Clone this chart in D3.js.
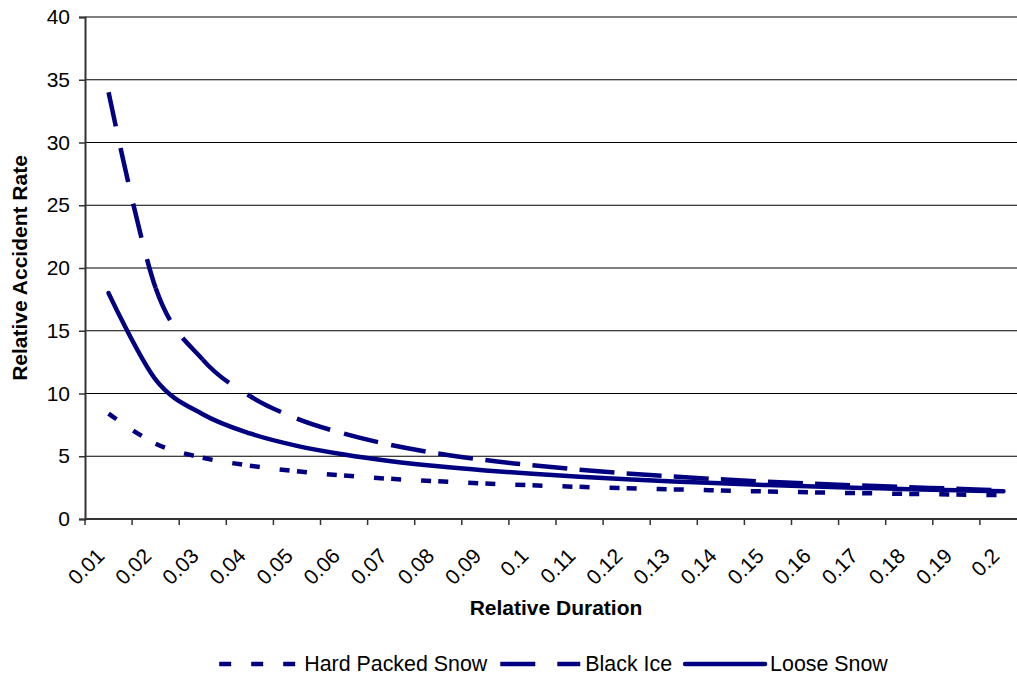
<!DOCTYPE html>
<html><head><meta charset="utf-8">
<script src="https://cdn.jsdelivr.net/npm/d3@7"></script>
<style>
body{margin:0;background:#fff}
svg{display:block}
text{font-family:"Liberation Sans",Arial,sans-serif;fill:#000}
</style>
</head><body>
<svg id="chart" width="1017" height="681"></svg>
<script>
const categories = ["0.01","0.02","0.03","0.04","0.05","0.06","0.07","0.08","0.09","0.1",
                    "0.11","0.12","0.13","0.14","0.15","0.16","0.17","0.18","0.19","0.2"];
const hardPackedSnow = [8.4, 6.0, 4.88, 4.25, 3.8, 3.46, 3.2, 3.0, 2.83, 2.68,
                        2.56, 2.45, 2.36, 2.27, 2.19, 2.12, 2.06, 2.0, 1.95, 1.9];
const blackIce = [34, 18.4, 12.7, 9.8, 8.0, 6.8, 5.9, 5.22, 4.7, 4.28,
                  3.93, 3.63, 3.38, 3.16, 2.97, 2.8, 2.66, 2.53, 2.41, 2.27];
const looseSnow = [18, 11.1, 8.35, 6.82, 5.83, 5.14, 4.61, 4.2, 3.87, 3.6,
                   3.36, 3.16, 2.99, 2.84, 2.7, 2.58, 2.48, 2.38, 2.29, 2.21];
const yTicks = [0, 5, 10, 15, 20, 25, 30, 35, 40];
const seriesNames = ["Hard Packed Snow", "Black Ice", "Loose Snow"];

const svg = d3.select("#chart");
const L = 85, R = 1027, T = 17, B = 519;
const navy = "#000080";

const x = d3.scaleBand().domain(categories).range([L, R]).padding(0);
const xc = c => x(c) + x.bandwidth() / 2;
const y = d3.scaleLinear().domain([0, 40]).range([B, T]);

// gridlines
svg.append("g").selectAll("line").data(yTicks.filter(v => v > 0)).join("line")
  .attr("x1", L).attr("x2", R).attr("y1", d => y(d)).attr("y2", d => y(d))
  .attr("stroke", "#000").attr("stroke-width", 1);

// y axis
const yAxis = svg.append("g").attr("transform", `translate(${L},0)`)
  .call(d3.axisLeft(y).tickValues(yTicks).tickSize(6).tickPadding(9).tickFormat(d3.format("d")));
yAxis.select(".domain").attr("stroke", "#333").attr("stroke-width", 2);
yAxis.selectAll(".tick line").attr("stroke", "#333").attr("stroke-width", 1.5);
yAxis.selectAll(".tick text").attr("font-size", 21).attr("font-family", "Liberation Sans, Arial, sans-serif").attr("fill", "#000");

// x axis: ticks at category boundaries, labels at centres
const xg = svg.append("g");
const bounds = categories.map(c => x(c)).concat([R]);
xg.selectAll("line.tk").data(bounds).join("line").attr("class", "tk")
  .attr("x1", d => d).attr("x2", d => d).attr("y1", B).attr("y2", B + 6)
  .attr("stroke", "#333").attr("stroke-width", 1.5);
xg.append("line").attr("x1", L).attr("x2", R).attr("y1", B).attr("y2", B)
  .attr("stroke", "#333").attr("stroke-width", 2);
xg.selectAll("text").data(categories).join("text")
  .attr("transform", d => `translate(${xc(d) - 8},${B + 33}) rotate(-45)`)
  .attr("text-anchor", "end").attr("dy", "0.35em").attr("font-size", 21)
  .text(d => d);

// axis titles
svg.append("text").attr("x", (L + R) / 2).attr("y", 615).attr("text-anchor", "middle")
  .attr("font-size", 21).attr("font-weight", "bold").text("Relative Duration");
svg.append("text").attr("transform", `translate(27,${(T + B) / 2}) rotate(-90)`)
  .attr("text-anchor", "middle").attr("font-size", 21).attr("font-weight", "bold")
  .text("Relative Accident Rate");

// series
const styles = [
  {dash: "10,20", cap: "butt"},
  {dash: "35,22", cap: "butt"},
  {dash: null, cap: "round"}
];
const allSeries = [hardPackedSnow, blackIce, looseSnow];
const lineGen = d3.line().x((d, i) => xc(categories[i])).y(d => y(d))
  .curve(d3.curveCardinal.tension(0));

allSeries.forEach((vals, si) => {
  const st = styles[si];
  const d = lineGen(vals);
  const g = svg.append("g");
  if (st.dash) {
    // Excel restarts the dash pattern at every data point: split into segments
    const parts = d.slice(1).split("C");
    let prev = parts[0];
    for (let k = 1; k < parts.length; k++) {
      const nums = parts[k].split(",");
      g.append("path").attr("d", `M${prev}C${parts[k]}`)
        .attr("fill", "none").attr("stroke", navy).attr("stroke-width", 4.5)
        .attr("stroke-dasharray", st.dash).attr("stroke-linecap", st.cap);
      prev = nums[4] + "," + nums[5];
    }
  } else {
    g.append("path").attr("d", d).attr("fill", "none").attr("stroke", navy)
      .attr("stroke-width", 4.5).attr("stroke-linecap", "round").attr("stroke-linejoin", "round");
  }
});

// legend (centred under the plot)
const lg = svg.append("g");
const legendY = 664;
let lx = 0;
seriesNames.forEach((name, si) => {
  const st = styles[si];
  const ln = lg.append("line").attr("x1", lx).attr("x2", lx + 80).attr("y1", legendY).attr("y2", legendY)
    .attr("stroke", navy).attr("stroke-width", 4.5).attr("stroke-linecap", st.cap);
  if (st.dash) ln.attr("stroke-dasharray", si === 0 ? "12,20" : st.dash);
  const t = lg.append("text").attr("x", lx + 85).attr("y", legendY + 7).attr("font-size", 21.4).text(name);
  lx += 85 + t.node().getComputedTextLength() + 13;
});
const totalW = lx - 13;
lg.attr("transform", `translate(${553.5 - totalW / 2},0)`);
</script>
</body></html>
